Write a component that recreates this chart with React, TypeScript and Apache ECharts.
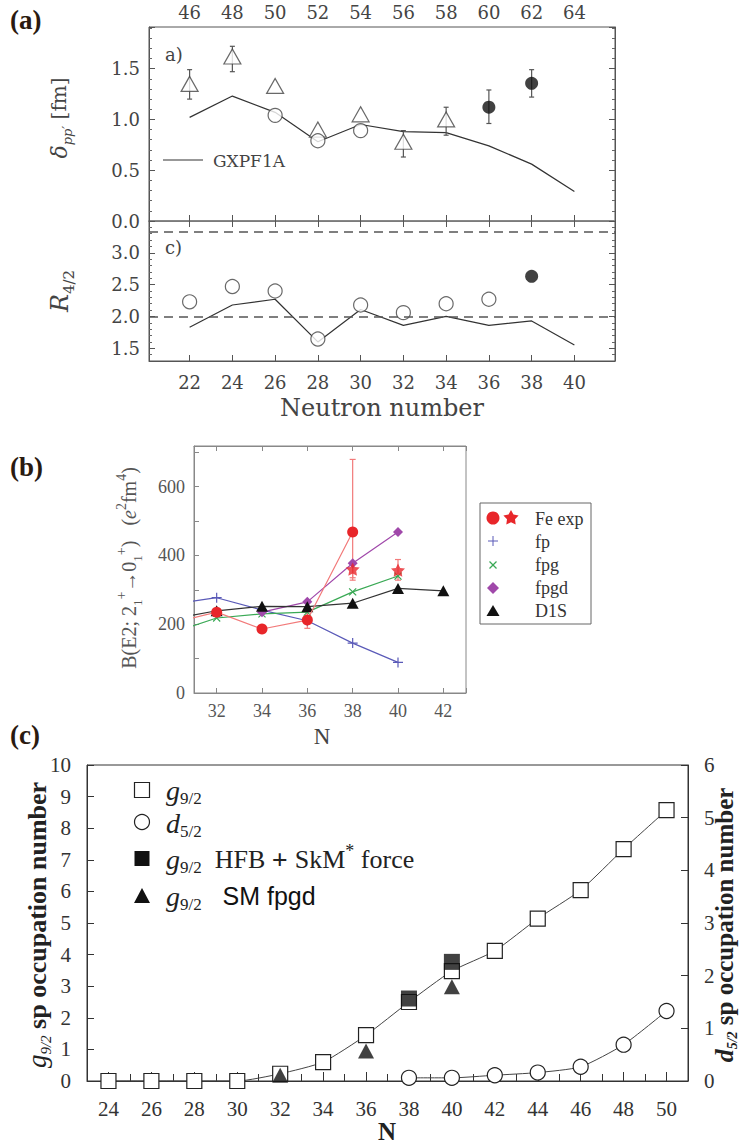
import React, { useEffect, useRef } from "react";
import * as echarts from "echarts";

// ---------------- Panel (a): delta_pp' and R4/2 versus neutron number ----------------
const neutronA = [22, 24, 26, 28, 30, 32, 34, 36, 38, 40];
const massNumberLabels = ["46", "48", "50", "52", "54", "56", "58", "60", "62", "64"];
const gxpf1aDelta = [1.02, 1.23, 1.07, 0.78, 0.95, 0.88, 0.87, 0.74, 0.56, 0.29];
const deltaTriN = [22, 24, 26, 28, 30, 32, 34];
const deltaTri = [1.35, 1.62, 1.33, 0.9, 1.05, 0.78, 1.0];
const deltaTriErrN = [22, 24, 32, 34];
const deltaTriLo = [1.2, 1.47, 0.63, 0.845];
const deltaTriHi = [1.49, 1.72, 0.89, 1.12];
const deltaCircN = [26, 28, 30];
const deltaCirc = [1.04, 0.79, 0.89];
const deltaDotN = [36, 38];
const deltaDot = [1.12, 1.355];
const deltaDotLo = [0.96, 1.22];
const deltaDotHi = [1.29, 1.49];
const gxpf1aR42 = [1.83, 2.18, 2.27, 1.6, 2.11, 1.86, 2.0, 1.86, 1.93, 1.55];
const r42CircN = [22, 24, 26, 28, 30, 32, 34, 36];
const r42Circ = [2.23, 2.47, 2.4, 1.645, 2.18, 2.06, 2.2, 2.27];
const r42DotN = [38];
const r42Dot = [2.63];
const r42RefLines = [2.0, 3.33];

// ---------------- Panel (b): B(E2) ----------------
const feCircN = [30, 32, 34, 36, 38];
const feCirc = [203, 235, 186, 212, 468];
const feCircErrN = [36, 38];
const feCircLo = [188, 335];
const feCircHi = [236, 679];
const feStarN = [38, 40];
const feStar = [360, 357];
const feStarLo = [328, 328];
const feStarHi = [377, 388];
const fpN = [30, 32, 34, 36, 38, 40];
const fp = [258, 277, 241, 210, 145, 89];
const fpgN = [30, 32, 34, 36, 38, 40];
const fpg = [174, 218, 230, 235, 294, 340];
const fpgdN = [34, 36, 38, 40];
const fpgd = [235, 265, 377, 468];
const d1sN = [30, 32, 34, 36, 38, 40, 42];
const d1s = [215, 239, 252, 251, 261, 304, 297];

// ---------------- Panel (c): occupation numbers ----------------
const neutronC = [24, 26, 28, 30, 32, 34, 36, 38, 40, 42, 44, 46, 48, 50];
const g92 = [0, 0, 0, 0, 0.23, 0.6, 1.45, 2.5, 3.48, 4.12, 5.14, 6.04, 7.34, 8.57];
const d52N = [38, 40, 42, 44, 46, 48, 50];
const d52 = [0.06, 0.06, 0.11, 0.16, 0.27, 0.69, 1.33];
const hfbN = [38, 40];
const hfb = [2.61, 3.77];
const smN = [32, 36, 40];
const sm = [0.18, 0.95, 2.98];

const SERIF_A = "DejaVu Serif";
const TIMES = "Liberation Serif";
const SANS = "Liberation Sans";

const pts = (xs: number[], ys: number[]) => xs.map((x, i) => [x, ys[i]]);
const bars = (xs: number[], lo: number[], hi: number[]) => xs.map((x, i) => [x, lo[i], hi[i]]);

const errRender = (color: string, cap: number, width: number) => (_p: any, api: any) => {
  const x = api.value(0);
  const a = api.coord([x, api.value(1)]);
  const b = api.coord([x, api.value(2)]);
  const style = { stroke: color, lineWidth: width };
  return {
    type: "group",
    children: [
      { type: "line", shape: { x1: a[0], y1: a[1], x2: b[0], y2: b[1] }, style },
      { type: "line", shape: { x1: a[0] - cap, y1: a[1], x2: a[0] + cap, y2: a[1] }, style },
      { type: "line", shape: { x1: b[0] - cap, y1: b[1], x2: b[0] + cap, y2: b[1] }, style },
    ],
  };
};

const vAxis = (o: any) => ({ type: "value", splitLine: { show: false }, ...o });

const starPath =
  "path://M0,-10L2.94,-4.05L9.51,-3.09L4.76,1.55L5.88,8.09L0,5L-5.88,8.09L-4.76,1.55L-9.51,-3.09L-2.94,-4.05Z";
const plusPath =
  "path://M-0.6,-5L0.6,-5L0.6,-0.6L5,-0.6L5,0.6L0.6,0.6L0.6,5L-0.6,5L-0.6,0.6L-5,0.6L-5,-0.6L-0.6,-0.6Z";

const near = (v: number, r: number) => Math.abs(v - r) < 1e-6;

function starPoints(cx: number, cy: number, R: number, r: number) {
  const p: number[][] = [];
  for (let k = 0; k < 10; k++) {
    const ang = (-90 + k * 36) * (Math.PI / 180);
    const rad = k % 2 === 0 ? R : r;
    p.push([cx + rad * Math.cos(ang), cy + rad * Math.sin(ang)]);
  }
  return p;
}

const rotText = (x: number, y: number, text: string, rich: any) => ({
  type: "text",
  x,
  y,
  rotation: Math.PI / 2,
  style: { text, rich, align: "center", verticalAlign: "middle", textAlign: "center", textVerticalAlign: "middle" },
});

const plainText = (x: number, y: number, text: string, font: any, align = "left") => ({
  type: "text",
  x,
  y,
  style: {
    text,
    ...font,
    align,
    textAlign: align,
    verticalAlign: "middle",
    textVerticalAlign: "middle",
  },
});

function buildOption(): any {
  const tickA = { inside: true, length: 6, lineStyle: { color: "#555" } };
  const minorA = { show: true, splitNumber: 5, length: 3, lineStyle: { color: "#666" } };
  const labA = { fontFamily: SERIF_A, fontSize: 18, color: "#444" };
  const xA = { min: 20.1, max: 41.9, splitNumber: 11 };

  const massFmt = (v: number) => {
    const i = neutronA.findIndex((n) => near(n, v));
    return i >= 0 ? massNumberLabels[i] : "";
  };
  const nFmt = (v: number) => (neutronA.some((n) => near(n, v)) ? String(Math.round(v)) : "");
  const yTopFmt = (v: number) => {
    const r = Math.round(v * 2) / 2;
    return near(v, r) && r <= 1.5 ? r.toFixed(1) : "";
  };
  const yBotFmt = (v: number) => {
    const r = Math.round(v * 2) / 2;
    return near(v, r) && r >= 1.5 && r <= 3.0 ? r.toFixed(1) : "";
  };
  const bxFmt = (v: number) => (near(v, Math.round(v)) && Math.round(v) % 2 === 0 ? String(Math.round(v)) : "");
  const byFmt = (v: number) => (Math.round(v) % 200 === 0 ? String(Math.round(v)) : "");
  const cxFmt = (v: number) => (near(v, Math.round(v)) && Math.round(v) % 2 === 0 ? String(Math.round(v)) : "");

  const redC = "#e8262a";
  const redL = "#f27a7a";
  const blue = "#5a5ab8";
  const green = "#3aa955";
  const purple = "#a048aa";

  const graphic: any[] = [
    // panel labels
    plainText(10, 20, "(a)", { fontFamily: TIMES, fontWeight: "bold", fontSize: 27, fill: "#2a1a10" }),
    plainText(10, 467, "(b)", { fontFamily: TIMES, fontWeight: "bold", fontSize: 27, fill: "#2a1a10" }),
    plainText(10, 735, "(c)", { fontFamily: TIMES, fontWeight: "bold", fontSize: 27, fill: "#2a1a10" }),
    // panel (a) texts
    plainText(165, 54, "a)", { fontFamily: SERIF_A, fontSize: 18, fill: "#444" }),
    plainText(165, 247, "c)", { fontFamily: SERIF_A, fontSize: 18, fill: "#444" }),
    { type: "line", shape: { x1: 163, y1: 160, x2: 203, y2: 160 }, style: { stroke: "#333", lineWidth: 1.2 } },
    plainText(213, 161, "GXPF1A", { fontFamily: SERIF_A, fontSize: 17, fill: "#444" }),
    plainText(382, 408, "Neutron number", { fontFamily: SERIF_A, fontSize: 24, fill: "#444" }, "center"),
    rotText(59, 118, "{i|δ}{s|pp′}{n| [fm]}", {
      i: { fontFamily: SERIF_A, fontStyle: "italic", fontSize: 22, lineHeight: 30, fill: "#444", verticalAlign: "middle" },
      s: { fontFamily: SERIF_A, fontStyle: "italic", fontSize: 13, fill: "#444", verticalAlign: "bottom" },
      n: { fontFamily: SERIF_A, fontSize: 20, lineHeight: 30, fill: "#444", verticalAlign: "middle" },
    }),
    rotText(60, 291, "{i|R}{s|4/2}", {
      i: { fontFamily: SERIF_A, fontStyle: "italic", fontSize: 24, lineHeight: 32, fill: "#444", verticalAlign: "middle" },
      s: { fontFamily: SERIF_A, fontSize: 15, fill: "#444", verticalAlign: "bottom" },
    }),
    // panel (b) texts
    rotText(129, 568, "{n|B(E2; 2}{sb|1}{sp|+}{n|→0}{sb|1}{sp|+}{n|)   (}{i|e}{sp|2}{n|fm}{sp|4}{n|)}", {
      n: { fontFamily: TIMES, fontSize: 20, lineHeight: 30, fill: "#555", verticalAlign: "middle" },
      i: { fontFamily: TIMES, fontStyle: "italic", fontSize: 20, lineHeight: 30, fill: "#555", verticalAlign: "middle" },
      sb: { fontFamily: TIMES, fontSize: 13, fill: "#555", verticalAlign: "bottom" },
      sp: { fontFamily: TIMES, fontSize: 14, fill: "#555", verticalAlign: "top" },
    }),
    plainText(322, 736, "N", { fontFamily: TIMES, fontSize: 23, fill: "#444" }, "center"),
    { type: "rect", shape: { x: 480, y: 503, width: 111, height: 121 }, style: { fill: "#fff", stroke: "#666", lineWidth: 1 } },
    { type: "circle", shape: { cx: 493, cy: 518, r: 6.5 }, style: { fill: redC } },
    { type: "polygon", shape: { points: starPoints(511, 518, 8, 4.2) }, style: { fill: redC } },
    { type: "line", shape: { x1: 488, y1: 541, x2: 498, y2: 541 }, style: { stroke: blue, lineWidth: 1 } },
    { type: "line", shape: { x1: 493, y1: 536, x2: 493, y2: 546 }, style: { stroke: blue, lineWidth: 1 } },
    { type: "line", shape: { x1: 489.5, y1: 561.5, x2: 496.5, y2: 568.5 }, style: { stroke: green, lineWidth: 1.2 } },
    { type: "line", shape: { x1: 489.5, y1: 568.5, x2: 496.5, y2: 561.5 }, style: { stroke: green, lineWidth: 1.2 } },
    { type: "polygon", shape: { points: [[493, 582], [499, 588], [493, 594], [487, 588]] }, style: { fill: purple } },
    { type: "polygon", shape: { points: [[486.5, 616], [499.5, 616], [493, 605]] }, style: { fill: "#111" } },
    plainText(535, 519, "Fe exp", { fontFamily: TIMES, fontSize: 18, fill: "#333" }),
    plainText(535, 542, "fp", { fontFamily: TIMES, fontSize: 18, fill: "#333" }),
    plainText(535, 565, "fpg", { fontFamily: TIMES, fontSize: 18, fill: "#333" }),
    plainText(535, 588, "fpgd", { fontFamily: TIMES, fontSize: 18, fill: "#333" }),
    plainText(535, 611, "D1S", { fontFamily: TIMES, fontSize: 18, fill: "#333" }),
    // panel (c) texts
    rotText(37, 925, "{gi|g}{sb|9/2}{b| sp occupation number}", {
      gi: { fontFamily: TIMES, fontStyle: "italic", fontSize: 27, lineHeight: 32, fill: "#222", verticalAlign: "middle" },
      sb: { fontFamily: TIMES, fontStyle: "italic", fontSize: 15, fill: "#222", verticalAlign: "bottom" },
      b: { fontFamily: TIMES, fontWeight: "bold", fontSize: 26, lineHeight: 32, fill: "#222", verticalAlign: "middle" },
    }),
    rotText(724, 925, "{di|d}{sb|5/2}{b| sp occupation number}", {
      di: { fontFamily: TIMES, fontStyle: "italic", fontWeight: "bold", fontSize: 26, lineHeight: 30, fill: "#222", verticalAlign: "middle" },
      sb: { fontFamily: TIMES, fontStyle: "italic", fontWeight: "bold", fontSize: 14, fill: "#222", verticalAlign: "bottom" },
      b: { fontFamily: TIMES, fontWeight: "bold", fontSize: 25, lineHeight: 30, fill: "#222", verticalAlign: "middle" },
    }),
    plainText(387, 1131, "N", { fontFamily: TIMES, fontWeight: "bold", fontSize: 25, fill: "#222" }, "center"),
    { type: "rect", shape: { x: 134.5, y: 782.5, width: 15, height: 15 }, style: { fill: "#fff", stroke: "#222", lineWidth: 1.2 } },
    { type: "circle", shape: { cx: 142, cy: 822, r: 7.5 }, style: { fill: "#fff", stroke: "#222", lineWidth: 1.2 } },
    { type: "rect", shape: { x: 134.5, y: 851, width: 15, height: 15 }, style: { fill: "#111" } },
    { type: "polygon", shape: { points: [[134, 903], [150, 903], [142, 888]] }, style: { fill: "#111" } },
  ];

  const legRich = {
    gi: { fontFamily: TIMES, fontStyle: "italic", fontSize: 28, lineHeight: 34, fill: "#222", verticalAlign: "middle" },
    sb: { fontFamily: TIMES, fontSize: 17, fill: "#222", verticalAlign: "bottom" },
    t: { fontFamily: TIMES, fontSize: 26, lineHeight: 34, fill: "#222", verticalAlign: "middle" },
    bp: { fontFamily: TIMES, fontWeight: "bold", fontSize: 28, lineHeight: 34, fill: "#222", verticalAlign: "middle" },
    sp: { fontFamily: TIMES, fontSize: 18, fill: "#222", verticalAlign: "top" },
    s: { fontFamily: SANS, fontSize: 25, lineHeight: 34, fill: "#111", verticalAlign: "middle" },
  };
  const legTxt = (y: number, text: string) => ({
    type: "text",
    x: 166,
    y,
    style: { text, rich: legRich, align: "left", textAlign: "left", verticalAlign: "middle", textVerticalAlign: "middle" },
  });
  graphic.push(legTxt(790, "{gi|g}{sb|9/2}"));
  graphic.push(legTxt(823, "{gi|d}{sb|5/2}"));
  graphic.push(legTxt(859, "{gi|g}{sb|9/2}{t|  HFB }{bp|+ }{t|SkM}{sp|*}{t| force}"));
  graphic.push(legTxt(896, "{gi|g}{sb|9/2}{s|   SM fpgd}"));

  return {
    animation: false,
    backgroundColor: "#fff",
    grid: [
      { left: 149, top: 27, width: 466, height: 194, show: true, borderColor: "#555", borderWidth: 1 },
      { left: 149, top: 221, width: 466, height: 140, show: true, borderColor: "#555", borderWidth: 1 },
      { left: 194, top: 446, width: 272, height: 247, show: true, borderColor: "#888", borderWidth: 1 },
      { left: 87, top: 765, width: 601, height: 316, show: true, borderColor: "#333", borderWidth: 1 },
    ],
    xAxis: [
      vAxis({ gridIndex: 0, position: "bottom", ...xA, axisLine: { lineStyle: { color: "#888", width: 1.5 } }, axisTick: tickA, axisLabel: { show: false } }),
      vAxis({ gridIndex: 0, position: "top", ...xA, axisLine: { lineStyle: { color: "#555" } }, axisTick: tickA, axisLabel: { ...labA, formatter: massFmt, margin: 6 } }),
      vAxis({ gridIndex: 1, position: "bottom", ...xA, axisLine: { lineStyle: { color: "#555" } }, axisTick: tickA, axisLabel: { ...labA, formatter: nFmt, margin: 12 } }),
      vAxis({ gridIndex: 1, position: "top", ...xA, axisLine: { lineStyle: { color: "#888", width: 1.5 } }, axisTick: tickA, axisLabel: { show: false } }),
      vAxis({ gridIndex: 2, position: "bottom", min: 31, max: 43, splitNumber: 6, axisLine: { lineStyle: { color: "#888" } }, axisTick: { inside: true, length: 5, lineStyle: { color: "#888" } }, axisLabel: { formatter: bxFmt, fontFamily: TIMES, fontSize: 18, color: "#555", margin: 9 } }),
      vAxis({ gridIndex: 2, position: "top", min: 31, max: 43, splitNumber: 6, axisLine: { lineStyle: { color: "#888" } }, axisTick: { inside: true, length: 5, lineStyle: { color: "#888" } }, axisLabel: { show: false } }),
      vAxis({ gridIndex: 3, position: "bottom", min: 23, max: 51, splitNumber: 14, axisLine: { lineStyle: { color: "#333" } }, axisTick: { inside: true, length: 9, lineStyle: { color: "#333" } }, minorTick: { show: true, splitNumber: 2, length: 7, lineStyle: { color: "#333" } }, axisLabel: { formatter: cxFmt, fontFamily: TIMES, fontSize: 21, color: "#333", margin: 17 } }),
    ],
    yAxis: [
      vAxis({ gridIndex: 0, position: "left", min: 0, max: 1.91, interval: 0.5, axisLine: { lineStyle: { color: "#555" } }, axisTick: tickA, minorTick: minorA, axisLabel: { ...labA, formatter: yTopFmt, margin: 9 } }),
      vAxis({ gridIndex: 0, position: "right", min: 0, max: 1.91, interval: 0.5, axisLine: { lineStyle: { color: "#555" } }, axisTick: tickA, minorTick: minorA, axisLabel: { show: false } }),
      vAxis({ gridIndex: 1, position: "left", min: 1.3, max: 3.5, splitNumber: 4, axisLine: { lineStyle: { color: "#555" } }, axisTick: tickA, minorTick: minorA, axisLabel: { ...labA, formatter: yBotFmt, margin: 9 } }),
      vAxis({ gridIndex: 1, position: "right", min: 1.3, max: 3.5, splitNumber: 4, axisLine: { lineStyle: { color: "#555" } }, axisTick: tickA, minorTick: minorA, axisLabel: { show: false } }),
      vAxis({ gridIndex: 2, position: "left", min: 0, max: 718, interval: 100, axisLine: { lineStyle: { color: "#888" } }, axisTick: { inside: true, length: 5, lineStyle: { color: "#888" } }, axisLabel: { formatter: byFmt, fontFamily: TIMES, fontSize: 18, color: "#555", margin: 9 } }),
      vAxis({ gridIndex: 3, position: "left", min: 0, max: 10, interval: 1, axisLine: { lineStyle: { color: "#333" } }, axisTick: { inside: true, length: 7, lineStyle: { color: "#333" } }, axisLabel: { fontFamily: TIMES, fontSize: 21, color: "#333", margin: 16 } }),
      vAxis({ gridIndex: 3, position: "right", min: 0, max: 6, interval: 1, axisLine: { lineStyle: { color: "#333" } }, axisTick: { inside: true, length: 7, lineStyle: { color: "#333" } }, axisLabel: { fontFamily: TIMES, fontSize: 21, color: "#333", margin: 16 } }),
    ],
    graphic,
    series: [
      // ---- (a) top
      { type: "line", xAxisIndex: 0, yAxisIndex: 0, data: pts(neutronA, gxpf1aDelta), symbol: "none", lineStyle: { color: "#333", width: 1.2 }, z: 2 },
      { type: "custom", xAxisIndex: 0, yAxisIndex: 0, renderItem: errRender("#555", 2.5, 1.2), encode: { x: 0, y: [1, 2] }, data: [...bars(deltaTriErrN, deltaTriLo, deltaTriHi), ...bars(deltaDotN, deltaDotLo, deltaDotHi)], z: 3 },
      { type: "scatter", xAxisIndex: 0, yAxisIndex: 0, data: pts(deltaTriN, deltaTri), symbol: "triangle", symbolSize: [17, 15], itemStyle: { color: "#fff", borderColor: "#444", borderWidth: 1.2 }, z: 4 },
      { type: "scatter", xAxisIndex: 0, yAxisIndex: 0, data: pts(deltaCircN, deltaCirc), symbol: "circle", symbolSize: 14, itemStyle: { color: "#fff", borderColor: "#444", borderWidth: 1.2 }, z: 4 },
      { type: "scatter", xAxisIndex: 0, yAxisIndex: 0, data: pts(deltaDotN, deltaDot), symbol: "circle", symbolSize: 13, itemStyle: { color: "#111" }, z: 4 },
      // ---- (a) bottom
      {
        type: "line", xAxisIndex: 2, yAxisIndex: 2, data: pts(neutronA, gxpf1aR42), symbol: "none", lineStyle: { color: "#333", width: 1.2 }, z: 2,
        markLine: { silent: true, symbol: "none", label: { show: false }, lineStyle: { type: [9, 6], color: "#555", width: 1.5 }, data: r42RefLines.map((v) => ({ yAxis: v })) },
      },
      { type: "scatter", xAxisIndex: 2, yAxisIndex: 2, data: pts(r42CircN, r42Circ), symbol: "circle", symbolSize: 14, itemStyle: { color: "#fff", borderColor: "#444", borderWidth: 1.2 }, z: 4 },
      { type: "scatter", xAxisIndex: 2, yAxisIndex: 2, data: pts(r42DotN, r42Dot), symbol: "circle", symbolSize: 13, itemStyle: { color: "#111" }, z: 4 },
      // ---- (b)
      { type: "custom", xAxisIndex: 4, yAxisIndex: 4, renderItem: errRender(redL, 3, 1.2), encode: { x: 0, y: [1, 2] }, data: [...bars(feCircErrN, feCircLo, feCircHi), ...bars(feStarN, feStarLo, feStarHi)], z: 2 },
      { type: "line", xAxisIndex: 4, yAxisIndex: 4, data: pts(fpN, fp), symbol: plusPath, symbolSize: 10, itemStyle: { color: blue }, lineStyle: { color: blue, width: 1.2 }, z: 3 },
      { type: "line", xAxisIndex: 4, yAxisIndex: 4, data: pts(fpgN, fpg), symbol: plusPath, symbolRotate: 45, symbolSize: 10, itemStyle: { color: green }, lineStyle: { color: green, width: 1.2 }, z: 3 },
      { type: "line", xAxisIndex: 4, yAxisIndex: 4, data: pts(fpgdN, fpgd), symbol: "diamond", symbolSize: 10, itemStyle: { color: purple }, lineStyle: { color: purple, width: 1.2 }, z: 3 },
      { type: "line", xAxisIndex: 4, yAxisIndex: 4, data: pts(d1sN, d1s), symbol: "triangle", symbolSize: [12, 11], itemStyle: { color: "#111" }, lineStyle: { color: "#333", width: 1.2 }, z: 3 },
      { type: "line", xAxisIndex: 4, yAxisIndex: 4, data: pts(feCircN, feCirc), symbol: "circle", symbolSize: 11, itemStyle: { color: redC }, lineStyle: { color: redL, width: 1.2 }, z: 4 },
      { type: "scatter", xAxisIndex: 4, yAxisIndex: 4, data: pts(feStarN, feStar), symbol: starPath, symbolKeepAspect: true, symbolSize: 14, itemStyle: { color: redC }, z: 5 },
      // ---- (c)
      { type: "line", xAxisIndex: 6, yAxisIndex: 5, data: pts(neutronC, g92), smooth: 0.2, symbol: "rect", symbolSize: 15, showSymbol: true, itemStyle: { color: "#fff", borderColor: "#222", borderWidth: 1.2 }, lineStyle: { color: "#444", width: 1 }, z: 3 },
      { type: "line", xAxisIndex: 6, yAxisIndex: 6, data: pts(d52N, d52), smooth: 0.2, symbol: "circle", symbolSize: 15, showSymbol: true, itemStyle: { color: "#fff", borderColor: "#222", borderWidth: 1.2 }, lineStyle: { color: "#444", width: 1 }, z: 3 },
      { type: "scatter", xAxisIndex: 6, yAxisIndex: 5, data: pts(hfbN, hfb), symbol: "rect", symbolSize: 16, itemStyle: { color: "#111" }, z: 4 },
      { type: "scatter", xAxisIndex: 6, yAxisIndex: 5, data: pts(smN, sm), symbol: "triangle", symbolSize: [16, 15], itemStyle: { color: "#111" }, z: 5 },
    ],
  };
}

export default function App() {
  const ref = useRef<HTMLDivElement>(null);
  useEffect(() => {
    if (!ref.current) return;
    const chart = echarts.init(ref.current, null, { renderer: "svg" });
    chart.setOption(buildOption());
    return () => chart.dispose();
  }, []);
  return (
    <div
      ref={ref}
      style={{ position: "absolute", left: 0, top: 0, width: 742, height: 1146, background: "#fff" }}
    />
  );
}
